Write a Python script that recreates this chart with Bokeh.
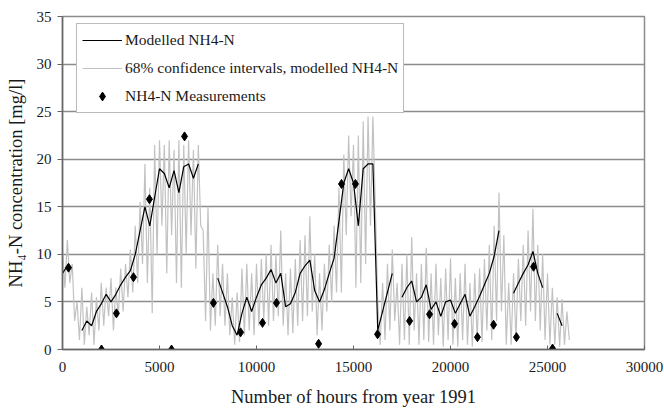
import math
from bokeh.plotting import figure
from bokeh.models import Legend, LegendItem, Range1d
from bokeh.embed import file_html
from bokeh.resources import INLINE

NAN = float("nan")

# time axis (hours from 1991), 250 h step
hours = [i * 250 for i in range(105)]

# modelled NH4-N (black line), NaN = gap
model = [
    8.0, 8.8, NAN, NAN, 2.0, 3.0, 2.5, 4.0, 4.8, 5.8,
    5.0, 5.8, 6.8, 7.6, 8.3, 10.0, 12.5, 15.0, 13.0, 16.0,
    19.0, 18.5, 17.0, 18.8, 16.5, 19.2, 19.5, 18.0, 19.5, NAN,
    11.0, NAN, 7.5, 6.0, 4.5, 2.5, 1.5, 3.8, 5.5, 4.0,
    5.5, 6.8, 7.5, 8.4, 7.0, 8.0, 4.5, 4.8, 6.0, 8.0,
    8.8, 9.4, 6.2, 5.0, 6.3, 8.0, 9.6, 13.5, 17.5, 19.0,
    17.5, 13.0, 19.0, 19.5, 19.5, 2.0, 4.0, 6.0, 8.0, NAN,
    5.5, 6.5, 7.2, 5.0, 5.5, 6.8, 4.2, 5.0, 3.5, 5.0,
    5.2, 3.8, 4.8, 5.8, 3.5, 4.5, 5.6, 6.8, 8.0, 9.8,
    12.5, NAN, NAN, 5.9, 7.0, 8.0, 8.9, 10.3, 8.0, 6.5,
    NAN, NAN, 3.8, 2.5, NAN,
]

# 68% confidence interval, upper and lower (grey)
ci_hi = [
    10.5, 11.5, 9.0, 5.0, 6.5, 4.5, 6.0, 5.5, 7.0, 6.5,
    7.5, 6.5, 8.5, 9.0, 10.5, 13.0, 15.5, 19.5, 17.0, 21.5,
    22.0, 21.5, 22.0, 21.0, 22.0, 21.5, 22.0, 21.0, 21.5, 12.5,
    15.0, 8.0, 11.0, 9.0, 8.0, 5.5, 6.0, 8.5, 9.0, 8.0,
    9.0, 9.5, 10.0, 11.0, 10.0, 12.5, 8.0, 8.5, 9.5, 11.5,
    12.0, 14.0, 10.0, 8.0, 9.0, 11.0, 13.0, 17.0, 20.5, 22.5,
    21.5, 22.5, 24.0, 24.5, 24.5, 5.0, 7.0, 9.0, 10.5, 7.0,
    9.0, 10.0, 11.8, 8.0, 9.0, 10.7, 8.0, 9.0, 7.5, 8.5,
    9.6, 7.5, 8.0, 9.0, 7.0, 8.0, 8.5, 9.5, 11.0, 13.0,
    16.5, 12.0, 7.0, 8.0, 9.5, 11.0, 12.5, 14.8, 11.0, 10.0,
    8.0, 6.5, 5.5, 5.3, 4.0,
]
ci_lo = [
    6.5, 7.0, 3.0, 1.0, 0.5, 1.5, 0.5, 2.0, 2.5, 3.5,
    2.0, 3.5, 4.0, 5.5, 6.0, 7.0, 9.0, 7.0, 3.8, 10.0,
    13.0, 8.0, 12.0, 7.0, 6.5, 10.0, 12.0, 8.5, 13.0, 3.0,
    2.0, 2.5, 3.5, 2.5, 1.5, 0.5, 0.8, 1.5, 2.0, 1.5,
    2.5, 3.0, 2.5, 3.0, 3.5, 2.5, 1.5, 1.7, 2.5, 3.0,
    3.5, 4.0, 1.5, 2.0, 4.0, 5.0, 6.0, 6.0, 12.0, 14.0,
    6.5, 7.0, 9.0, 13.0, 15.0, 0.5, 1.0, 2.0, 3.0, 0.5,
    1.0, 0.5, 2.0, 0.5, 1.0, 0.8, 0.5, 1.5, 0.3, 1.0,
    0.5, 0.3, 1.0, 0.5, 0.3, 1.0, 0.8, 2.0, 1.0, 3.0,
    4.0, 0.5, 0.5, 1.0, 3.0, 2.5, 4.0, 3.0, 2.0, 1.0,
    0.5, 0.5, 0.3, 0.5, 1.0,
]

# measurements (diamonds)
meas_hours = [310, 2010, 2780, 3660, 4480, 5620, 6290, 7780, 9180, 10310, 11030,
              13200, 14380, 15100, 16240, 17890, 18920, 20210, 21390, 22220,
              23400, 24280, 25260]
meas_vals = [8.6, 0.0, 3.8, 7.6, 15.8, 0.0, 22.4, 4.9, 1.8, 2.8, 4.9,
             0.6, 17.4, 17.4, 1.6, 3.0, 3.7, 2.7, 1.3, 2.6,
             1.3, 8.7, 0.1]

x_ticks = [0, 5000, 10000, 15000, 20000, 25000, 30000]
y_ticks = [0, 5, 10, 15, 20, 25, 30, 35]

FONT = "serif"

p = figure(width=664, height=411, output_backend="svg", toolbar_location=None,
           x_range=Range1d(0, 30000), y_range=Range1d(0, 35),
           min_border_left=62, min_border_right=20, min_border_top=16, min_border_bottom=62)
p.background_fill_color = "white"
p.outline_line_color = "#8c8c8c"
p.outline_line_width = 1.5

# grey zig-zag confidence band built from the upper / lower arrays
zx, zy = [], []
for t, hi, lo in zip(hours, ci_hi, ci_lo):
    zx += [t, t + 125]
    zy += [hi, lo]
r_ci = p.line(zx, zy, line_color="#c2c2c2", line_width=1.2)

r_mod = p.line(hours, model, line_color="black", line_width=1.2)
r_meas = p.scatter(meas_hours, meas_vals, marker="diamond", size=9,
                   fill_color="black", line_color="black")

# axes
p.xaxis.ticker = x_ticks
p.yaxis.ticker = y_ticks
p.xgrid.visible = False
p.ygrid.grid_line_color = "#8c8c8c"
p.ygrid.grid_line_width = 1.5
for ax in (p.xaxis[0], p.yaxis[0]):
    ax.major_label_text_font = FONT
    ax.major_label_text_font_size = "15px"
    ax.major_label_text_color = "#1a1a1a"
    ax.axis_label_text_font = FONT
    ax.axis_label_text_font_size = "18.5px"
    ax.axis_label_text_font_style = "normal"
    ax.axis_label_text_color = "#1a1a1a"
    ax.minor_tick_line_color = None
    ax.axis_line_color = "#666666"
    ax.axis_line_width = 1.5
    ax.major_tick_line_color = "#666666"
p.xaxis.major_tick_in = 4
p.xaxis.major_tick_out = 0
p.yaxis.major_tick_in = 0
p.yaxis.major_tick_out = 5
p.xaxis.major_label_standoff = 12
p.yaxis.major_label_standoff = 6
p.xaxis.axis_label = "Number of hours from year 1991"
p.yaxis.axis_label = "NH\u2084-N concentration [mg/l]"
p.xaxis.axis_label_standoff = 12
p.yaxis.axis_label_standoff = 8

legend = Legend(items=[
    LegendItem(label="Modelled NH4-N", renderers=[r_mod]),
    LegendItem(label="68% confidence intervals, modelled NH4-N", renderers=[r_ci]),
    LegendItem(label="NH4-N Measurements", renderers=[r_meas]),
], location=(14, 236))
legend.label_text_font = FONT
legend.label_text_font_size = "15.5px"
legend.label_text_color = "#1a1a1a"
legend.padding = 5
legend.spacing = 6
legend.label_height = 22
legend.glyph_height = 22
legend.glyph_width = 40
legend.label_standoff = 3
legend.margin = 0
legend.border_line_color = "#777777"
legend.border_line_width = 1.5
legend.background_fill_alpha = 1.0
p.add_layout(legend, "center")

open("out.html", "w").write(file_html(p, INLINE))
